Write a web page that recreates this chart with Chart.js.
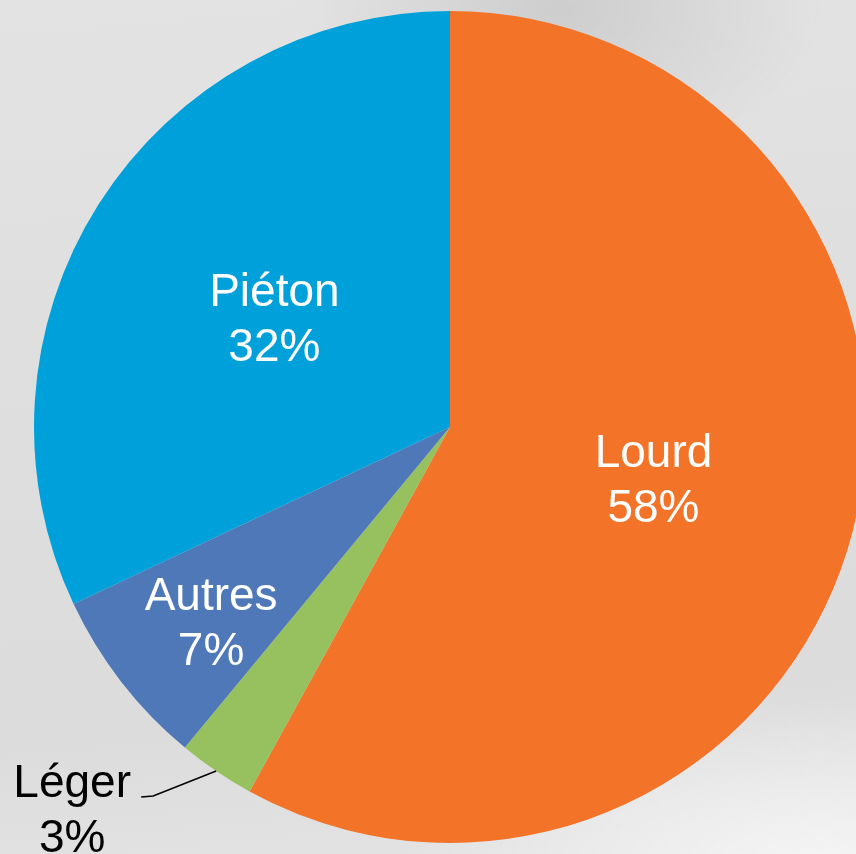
<!DOCTYPE html>
<html>
<head>
<meta charset="utf-8">
<script src="https://cdn.jsdelivr.net/npm/chart.js@4"></script>
<style>
  html, body { margin: 0; padding: 0; overflow: hidden; }
  body {
    width: 856px; height: 854px;
    background:
      radial-gradient(ellipse 260px 160px at 560px 10px, rgba(200,200,200,0.8), rgba(200,200,200,0)),
      radial-gradient(ellipse 420px 160px at 820px 860px, rgba(245,245,245,0.95), rgba(245,245,245,0)),
      linear-gradient(175deg, #e3e3e3 0%, #dedede 45%, #dcdcdc 80%, #e4e4e4 100%);
  }
  #wrap { position: absolute; left: 0; top: 0; width: 900px; height: 854px; }
</style>
</head>
<body>
<div id="wrap"><canvas id="pie" width="900" height="854"></canvas></div>
<script>
const categories = ["Lourd", "Léger", "Autres", "Piéton"];
const shares = [58, 3, 7, 32];
const colors = ["#F37329", "#97C05E", "#4E78B7", "#00A0DA"];

// where each label sits: fraction of the radius (+ small nudge), or outside with a leader line
const labelPlacement = [
  { frac: 0.505, nudge: [0, -1] },
  { outside: true, elbow: [-63, 25], tail: -12, textGap: 69 },
  { frac: 0.745, nudge: [6, 5] },
  { frac: 0.5, nudge: [0, 2] }
];

const FONT = '46px "Liberation Sans", Arial, sans-serif';
const LINE = 55;

const sliceLabels = {
  id: "sliceLabels",
  afterDatasetsDraw(chart) {
    const ctx = chart.ctx;
    const meta = chart.getDatasetMeta(0);
    ctx.save();
    ctx.font = FONT;
    ctx.textAlign = "center";
    ctx.textBaseline = "alphabetic";
    meta.data.forEach((arc, i) => {
      const { x, y, startAngle, endAngle, outerRadius } = arc.getProps(
        ["x", "y", "startAngle", "endAngle", "outerRadius"], true);
      const mid = (startAngle + endAngle) / 2;
      const p = labelPlacement[i];
      const lines = [categories[i], shares[i] + "%"];
      let cx, cy;
      if (p.outside) {
        const ex = x + Math.cos(mid) * outerRadius;
        const ey = y + Math.sin(mid) * outerRadius;
        const bx = ex + p.elbow[0];
        const by = ey + p.elbow[1];
        const tx = bx + p.tail;
        ctx.strokeStyle = "#000";
        ctx.lineWidth = 1.5;
        ctx.beginPath();
        ctx.moveTo(ex, ey);
        ctx.lineTo(bx, by);
        ctx.lineTo(tx, by + 1);
        ctx.stroke();
        cx = tx - p.textGap;
        cy = by + 12;
        ctx.fillStyle = "#000";
      } else {
        cx = x + Math.cos(mid) * outerRadius * p.frac + p.nudge[0];
        cy = y + Math.sin(mid) * outerRadius * p.frac + p.nudge[1];
        ctx.fillStyle = "#fff";
      }
      ctx.fillText(lines[0], cx, cy - LINE / 2 + 16);
      ctx.fillText(lines[1], cx, cy + LINE / 2 + 16);
    });
    ctx.restore();
  }
};

new Chart(document.getElementById("pie"), {
  type: "pie",
  data: {
    labels: categories,
    datasets: [{
      data: shares,
      backgroundColor: colors,
      borderWidth: 0,
      offset: 0,
      hoverOffset: 0
    }]
  },
  options: {
    responsive: false,
    animation: false,
    events: [],
    layout: { padding: { left: 34, right: 34, top: 11, bottom: 11 } },
    plugins: {
      legend: { display: false },
      tooltip: { enabled: false }
    }
  },
  plugins: [sliceLabels]
});
</script>
</body>
</html>
